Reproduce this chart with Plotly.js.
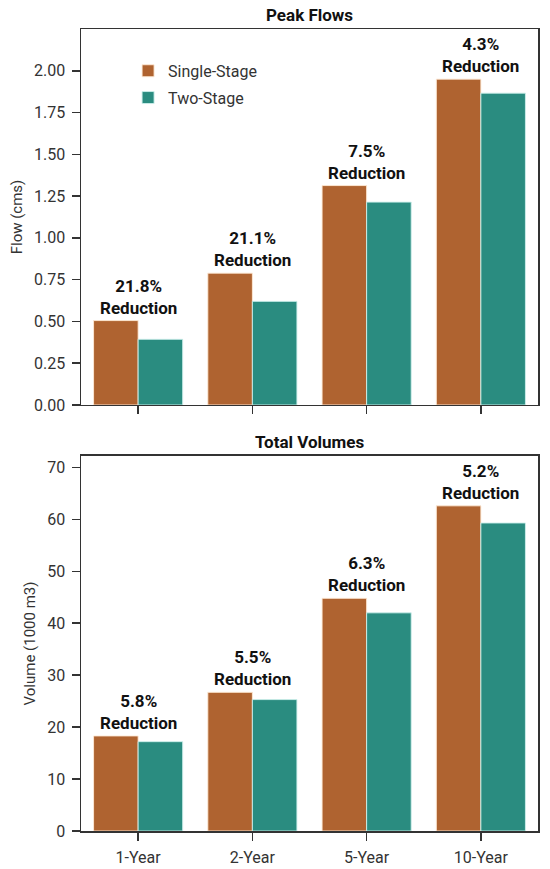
<!DOCTYPE html>
<html>
<head>
<meta charset="utf-8">
<script src="https://cdn.plot.ly/plotly-3.0.1.min.js"></script>
<style>html,body{margin:0;padding:0;background:#fff;}#chart{width:550px;height:869px;}</style>
</head>
<body>
<div id="chart"></div>
<script>
const categories = ['1-Year', '2-Year', '5-Year', '10-Year'];
const peakSingle = [0.505, 0.789, 1.313, 1.950];
const peakTwo = [0.393, 0.620, 1.214, 1.866];
const peakLabels = ['21.8%', '21.1%', '7.5%', '4.3%'];
const volSingle = [18.3, 26.7, 44.8, 62.6];
const volTwo = [17.2, 25.3, 42.0, 59.3];
const volLabels = ['5.8%', '5.5%', '6.3%', '5.2%'];
const peakTicks = [0, 0.25, 0.5, 0.75, 1.0, 1.25, 1.5, 1.75, 2.0];
const volTicks = [0, 10, 20, 30, 40, 50, 60, 70];

const orange = '#AF6330';
const teal = '#2A8C80';
const edgeO = 'rgba(255,235,215,0.9)';
const edgeT = 'rgba(205,240,235,0.9)';
const font = 'Roboto, "Open Sans", sans-serif';

const traces = [
  {type: 'bar', name: 'Single-Stage', x: categories, y: peakSingle, xaxis: 'x2', yaxis: 'y2',
   marker: {color: orange, line: {color: edgeO, width: 1}}, legendgroup: 'a'},
  {type: 'bar', name: 'Two-Stage', x: categories, y: peakTwo, xaxis: 'x2', yaxis: 'y2',
   marker: {color: teal, line: {color: edgeT, width: 1}}, legendgroup: 'b'},
  {type: 'bar', name: 'Single-Stage', x: categories, y: volSingle, xaxis: 'x', yaxis: 'y',
   marker: {color: orange, line: {color: edgeO, width: 1}}, showlegend: false},
  {type: 'bar', name: 'Two-Stage', x: categories, y: volTwo, xaxis: 'x', yaxis: 'y',
   marker: {color: teal, line: {color: edgeT, width: 1}}, showlegend: false}
];

const annFont = {family: font, size: 17, color: '#111'};
const annotations = [];
categories.forEach((c, i) => {
  annotations.push({xref: 'x2', yref: 'y2', x: c, y: peakSingle[i], yanchor: 'bottom', yshift: 1,
    text: '<b>' + peakLabels[i] + '<br>Reduction</b>', showarrow: false, font: annFont});
  annotations.push({xref: 'x', yref: 'y', x: c, y: volSingle[i], yanchor: 'bottom', yshift: 1,
    text: '<b>' + volLabels[i] + '<br>Reduction</b>', showarrow: false, font: annFont});
});
annotations.push({xref: 'paper', yref: 'paper', x: 0.5, y: 1, yanchor: 'bottom', yshift: 2,
  text: '<b>Peak Flows</b>', showarrow: false, font: annFont});
annotations.push({xref: 'paper', yref: 'paper', x: 0.5, y: 0.4676, yanchor: 'bottom', yshift: 2,
  text: '<b>Total Volumes</b>', showarrow: false, font: annFont});

const axisCommon = {showline: true, mirror: true, linecolor: '#333', linewidth: 1.5,
  ticks: 'outside', ticklen: 8, tickwidth: 1.5, tickcolor: '#333', showgrid: false, zeroline: false,
  ticklabelstandoff: 3,
  tickfont: {family: font, size: 16, color: '#333'}};
const titleFont = {family: font, size: 15, color: '#333'};

const layout = {
  width: 550, height: 869,
  margin: {l: 81, r: 12, t: 29, b: 38},
  paper_bgcolor: '#fff', plot_bgcolor: '#fff',
  barmode: 'group', bargap: 0.22, bargroupgap: 0,
  font: {family: font, color: '#333'},
  showlegend: true,
  legend: {x: 0.103, y: 0.969, xanchor: 'left', yanchor: 'top', bgcolor: 'rgba(0,0,0,0)',
    font: {family: font, size: 16, color: '#333'}, tracegroupgap: 3},
  xaxis: Object.assign({}, axisCommon, {anchor: 'y', domain: [0, 1], range: [-0.5, 3.5]}),
  yaxis: Object.assign({}, axisCommon, {anchor: 'x', domain: [0, 0.4676], range: [0, 72.2],
    tickvals: volTicks, ticktext: volTicks.map(String),
    title: {text: 'Volume (1000 m3)', standoff: 8, font: titleFont}}),
  xaxis2: Object.assign({}, axisCommon, {anchor: 'y2', matches: 'x', showticklabels: false, domain: [0, 1], range: [-0.5, 3.5]}),
  yaxis2: Object.assign({}, axisCommon, {anchor: 'x2', domain: [0.5312, 1], range: [0, 2.25],
    tickvals: peakTicks, ticktext: peakTicks.map(v => v.toFixed(2)),
    title: {text: 'Flow (cms)', standoff: 8, font: titleFont}}),
  annotations: annotations
};

Plotly.newPlot('chart', traces, layout, {displayModeBar: false, staticPlot: true});
</script>
</body>
</html>
